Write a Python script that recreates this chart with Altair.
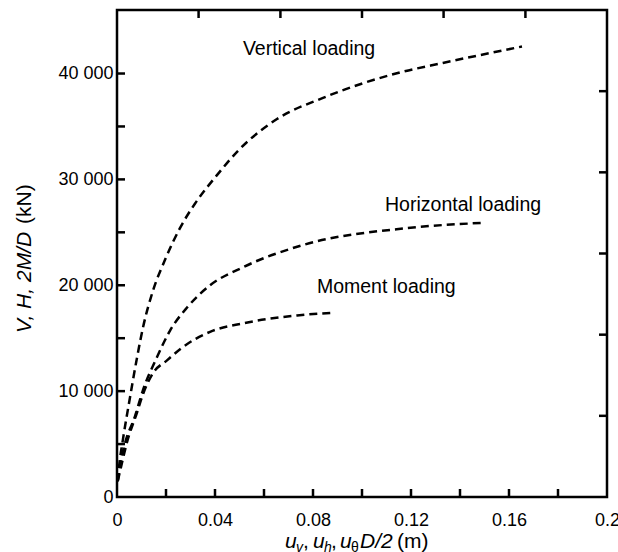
import altair as alt
import pandas as pd

# ---------------- data ----------------
vert_x = [0.0003, 0.0010, 0.0024, 0.0053, 0.0082, 0.0106, 0.0147, 0.0196, 0.0257,
          0.0318, 0.0408, 0.0494, 0.0653, 0.0841, 0.1155, 0.1330, 0.1653]
vert_y = [1500, 3200, 5400, 9400, 13200, 16000, 19500, 22400, 25400,
          27700, 30400, 32700, 35700, 37700, 40100, 41000, 42550]

horiz_x = [0.0003, 0.0015, 0.0033, 0.0073, 0.0106, 0.0163, 0.0216, 0.0286, 0.0380,
           0.0514, 0.0759, 0.1184, 0.1500]
horiz_y = [1500, 3300, 5100, 7600, 10100, 13200, 15700, 17900, 20000,
           21700, 23800, 25400, 25900]

moment_x = [0.0003, 0.0020, 0.0040, 0.0082, 0.0106, 0.0147, 0.0204, 0.0265, 0.0380,
            0.0514, 0.0735, 0.0878]
moment_y = [1500, 3200, 5100, 8000, 9700, 11700, 12900, 14100, 15600,
            16400, 17150, 17400]

series_names = ["Vertical loading", "Horizontal loading", "Moment loading"]
label_x = [0.0514, 0.1094, 0.0816]
label_y = [42360, 27550, 19810]

x_label_values = [0, 0.04, 0.08, 0.12, 0.16, 0.2]
y_label_values = [0, 10000, 20000, 30000, 40000]
x_tick_values = [0.02, 0.04, 0.06, 0.08, 0.10, 0.12, 0.14, 0.16, 0.18]
y_tick_values = [5000, 10000, 15000, 20000, 25000, 30000, 35000, 40000]
top_tick_values = [0.0333, 0.0667, 0.1, 0.1333, 0.1667]
right_tick_values = [7667, 15333, 23000, 30667, 38333]

x_domain = [0, 0.2]
y_domain = [0, 46000]

# ---------------- build tables ----------------
rows = []
for name, xs_, ys_ in zip(series_names, [vert_x, horiz_x, moment_x], [vert_y, horiz_y, moment_y]):
    for a, b in zip(xs_, ys_):
        rows.append({"series": name, "x": a, "y": b})
curves = pd.DataFrame(rows)
labels = pd.DataFrame({"t": series_names, "x": label_x, "y": label_y})

FONT = "Liberation Sans"
W, H = 490, 487
xs = alt.Scale(domain=x_domain, nice=False, zero=False)
ys = alt.Scale(domain=y_domain, nice=False, zero=False)

x_axis = alt.Axis(values=x_label_values, labelExpr="format(datum.value, '.2~f')",
                  ticks=False, tickSize=0, domain=False, grid=False, labelFont=FONT,
                  labelFontSize=18, labelColor="black", labelPadding=14,
                  labelFlush=False, labelOverlap=False, title=None)
y_axis = alt.Axis(values=y_label_values,
                  labelExpr="replace(format(datum.value, ','), ',', ' ')",
                  ticks=False, tickSize=0, domain=False, grid=False, labelFont=FONT,
                  labelFontSize=18, labelColor="black", labelPadding=4,
                  labelOverlap=False, title=None)

X = lambda f: alt.X(f, scale=xs, axis=x_axis)
Y = lambda f: alt.Y(f, scale=ys, axis=y_axis)

lines = alt.Chart(curves).mark_line(
    color="black", strokeWidth=2.5, strokeDash=[8, 5], interpolate="monotone"
).encode(x=X("x:Q"), y=Y("y:Q"), detail="series:N")

tick_style = dict(color="black", strokeWidth=2.5)
bottom_ticks = alt.Chart(pd.DataFrame({"v": x_tick_values})).mark_rule(**tick_style).encode(
    x=X("v:Q"), y=alt.value(H), y2=alt.value(H - 8))
left_ticks = alt.Chart(pd.DataFrame({"v": y_tick_values})).mark_rule(**tick_style).encode(
    y=Y("v:Q"), x=alt.value(0), x2=alt.value(8))
top_ticks = alt.Chart(pd.DataFrame({"v": top_tick_values})).mark_rule(**tick_style).encode(
    x=X("v:Q"), y=alt.value(0), y2=alt.value(8))
right_ticks = alt.Chart(pd.DataFrame({"v": right_tick_values})).mark_rule(**tick_style).encode(
    y=Y("v:Q"), x=alt.value(W), x2=alt.value(W - 8))

ann = alt.Chart(labels).mark_text(
    align="left", baseline="middle", font=FONT, fontSize=19.5, color="black"
).encode(x=X("x:Q"), y=Y("y:Q"), text="t:N")

# axis titles built from pieces (italic / subscript)
def piece(txt, px, py, size=21, italic=False, angle=None):
    kw = dict(align="left", baseline="alphabetic", font=FONT, fontSize=size, color="black")
    if italic:
        kw["fontStyle"] = "italic"
    if angle is not None:
        kw["angle"] = angle
    return alt.Chart(pd.DataFrame({"t": [txt]})).mark_text(**kw).encode(
        x=alt.value(px), y=alt.value(py), text="t:N")

xb = 538
xsub = 542
x_title = [
    piece("u", 168, xb, italic=True),
    piece("v", 179, xsub, size=14, italic=True),
    piece(",", 186, xb),
    piece("u", 196, xb, italic=True),
    piece("h", 207, xsub, size=14, italic=True),
    piece(",", 214, xb),
    piece("u", 223, xb, italic=True),
    piece("θ", 234, xsub, size=14),
    piece("D/2", 243, xb, italic=True),
    piece("(m)", 280, xb),
]
y_title = [
    piece("V, H, 2M/D", -86, 323, italic=True, angle=270),
    piece("(kN)", -86, 214, angle=270),
]

chart = alt.layer(
    lines, bottom_ticks, left_ticks, top_ticks, right_ticks, ann, *x_title, *y_title
).properties(
    width=W, height=H,
    autosize=alt.AutoSizeParams(type="none"),
    padding={"left": 117, "top": 10, "right": 11, "bottom": 55},
    background="white",
).configure_view(
    stroke="black", strokeWidth=2.5
)

chart.save("out.html", embed_options={"renderer": "svg", "actions": False})
